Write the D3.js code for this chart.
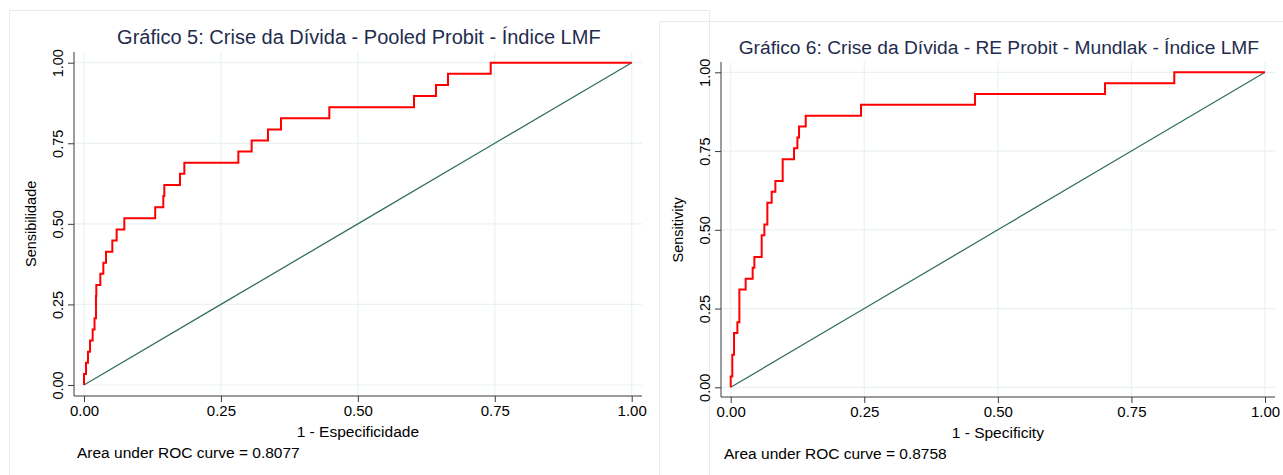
<!DOCTYPE html>
<html>
<head>
<meta charset="utf-8">
<script src="https://cdn.jsdelivr.net/npm/d3@7"></script>
<style>
  body { margin: 0; background: #fff; }
  svg { display: block; font-family: "Liberation Sans", Arial, sans-serif; }
</style>
</head>
<body>
<svg id="canvas" width="1283" height="475"></svg>
<script>
// sensitivity levels (29 positive cases)
var sensitivity = [0, .0345, .0690, .1034, .1379, .1724, .2069, .2414, .2759, .3103,
	.3448, .3793, .4138, .4483, .4828, .5172, .5517, .5862, .6207, .6552,
	.6897, .7241, .7586, .7931, .8276, .8621, .8966, .9310, .9655, 1, 1];

// 1 - specificity where each sensitivity level starts (Gráfico 5, pooled probit)
var fprPooled = [0, 0, .0037, .0073, .0110, .0158, .0192, .0219, .0219, .0225,
	.0298, .0353, .0402, .0517, .0596, .0736, .1300, .1448, .1466, .1753,
	.1832, .2818, .3061, .3359, .3597, .4479, .6025, .6427, .6646, .7426, 1];

// Gráfico 6, RE probit - Mundlak
var fprMundlak = [0, 0, .0030, .0030, .0062, .0062, .0125, .0162, .0162, .0162,
	.0280, .0411, .0443, .0580, .0580, .0630, .0686, .0686, .0767, .0836,
	.0973, .0973, .1185, .1248, .1279, .1404, .2439, .4572, .7006, .8302, 1];

var tickValues = [0, .25, .5, .75, 1];
var tickLabels = ["0.00", "0.25", "0.50", "0.75", "1.00"];

var charts = [
	{title: "Gráfico 5: Crise da Dívida - Pooled Probit - Índice LMF", ytitle: "Sensibilidade",
	 xtitle: "1 - Especificidade", note: "Area under ROC curve = 0.8077", fpr: fprPooled, titleSize: 20,
	 panel: [9, 10], x0: 84, x1: 631.7, y0: 385, y1: 62.7, left: 74, right: 642, top: 52, bottom: 396},
	{title: "Gráfico 6: Crise da Dívida - RE Probit - Mundlak - Índice LMF", ytitle: "Sensitivity",
	 xtitle: "1 - Specificity", note: "Area under ROC curve = 0.8758", fpr: fprMundlak, titleSize: 19.2,
	 panel: [659, 21], x0: 730.7, x1: 1265, y0: 387.3, y1: 72.3, left: 721, right: 1275, top: 62, bottom: 397}
];

var svg = d3.select("#canvas");

function drawChart(c) {
	svg.append("rect")
		.attr("x", c.panel[0] + 0.5).attr("y", c.panel[1] + 0.5)
		.attr("width", 700).attr("height", 600)
		.attr("fill", "none").attr("stroke", "#e4ecec");

	var x = d3.scaleLinear().domain([0, 1]).range([c.x0, c.x1]);
	var y = d3.scaleLinear().domain([0, 1]).range([c.y0, c.y1]);
	var g = svg.append("g");

	// grid
	g.selectAll(".hgrid").data(tickValues).enter().append("line")
		.attr("x1", c.left).attr("x2", c.right)
		.attr("y1", function(d){ return y(d); }).attr("y2", function(d){ return y(d); })
		.attr("stroke", "#eaf2f3").attr("stroke-width", 1.2);
	g.selectAll(".vgrid").data(tickValues).enter().append("line")
		.attr("y1", c.top).attr("y2", c.bottom)
		.attr("x1", function(d){ return x(d); }).attr("x2", function(d){ return x(d); })
		.attr("stroke", "#eaf2f3").attr("stroke-width", 1.2);

	// axes
	var xAxis = d3.axisBottom(x).tickValues(tickValues)
		.tickFormat(function(d, i){ return tickLabels[i]; }).tickSize(6).tickPadding(3);
	var gx = g.append("g").attr("transform", "translate(0," + c.bottom + ")").call(xAxis);
	gx.select(".domain").attr("d", "M" + c.left + ",0H" + c.right);
	gx.selectAll(".tick text").attr("font-size", 15);

	var yAxis = d3.axisLeft(y).tickValues(tickValues)
		.tickFormat(function(d, i){ return tickLabels[i]; }).tickSize(6).tickPadding(3);
	var gy = g.append("g").attr("transform", "translate(" + c.left + ",0)").call(yAxis);
	gy.select(".domain").attr("d", "M0," + c.top + "V" + c.bottom);
	gy.selectAll(".tick text")
		.attr("transform", "rotate(-90)")
		.attr("x", 0).attr("y", -16).attr("dy", "0.35em")
		.attr("text-anchor", "middle").attr("font-size", 14.5);

	g.selectAll(".domain, .tick line").attr("stroke", "#3a3a3a");
	g.selectAll(".tick text").attr("fill", "#000")
		.attr("font-family", "'Liberation Sans', Arial, sans-serif");

	// reference diagonal
	g.append("path")
		.datum(tickValues)
		.attr("d", d3.line().x(function(d){ return x(d); }).y(function(d){ return y(d); }))
		.attr("fill", "none").attr("stroke", "#33705f").attr("stroke-width", 1.3);

	// ROC curve
	var pts = c.fpr.map(function(f, i){ return [f, sensitivity[i]]; });
	g.append("path")
		.datum(pts)
		.attr("d", d3.line().curve(d3.curveStepAfter)
			.x(function(d){ return x(d[0]); }).y(function(d){ return y(d[1]); }))
		.attr("fill", "none").attr("stroke", "#ff0000").attr("stroke-width", 2);

	// titles
	svg.append("text")
		.attr("x", (c.x0 + c.x1) / 2 + 1).attr("y", c.top - 8)
		.attr("text-anchor", "middle").attr("font-size", c.titleSize).attr("fill", "#1f2c4e")
		.text(c.title);
	svg.append("text")
		.attr("x", (c.x0 + c.x1) / 2).attr("y", c.bottom + 41)
		.attr("text-anchor", "middle").attr("font-size", 15.5).attr("fill", "#000")
		.text(c.xtitle);
	svg.append("text")
		.attr("transform", "translate(" + (c.left - 38) + "," + ((c.y0 + c.y1) / 2) + ") rotate(-90)")
		.attr("text-anchor", "middle").attr("font-size", 14.5).attr("fill", "#000")
		.text(c.ytitle);
	svg.append("text")
		.attr("x", c.left + 3).attr("y", c.bottom + 62)
		.attr("font-size", 15.5).attr("fill", "#000")
		.text(c.note);
}

charts.forEach(drawChart);
</script>
</body>
</html>
